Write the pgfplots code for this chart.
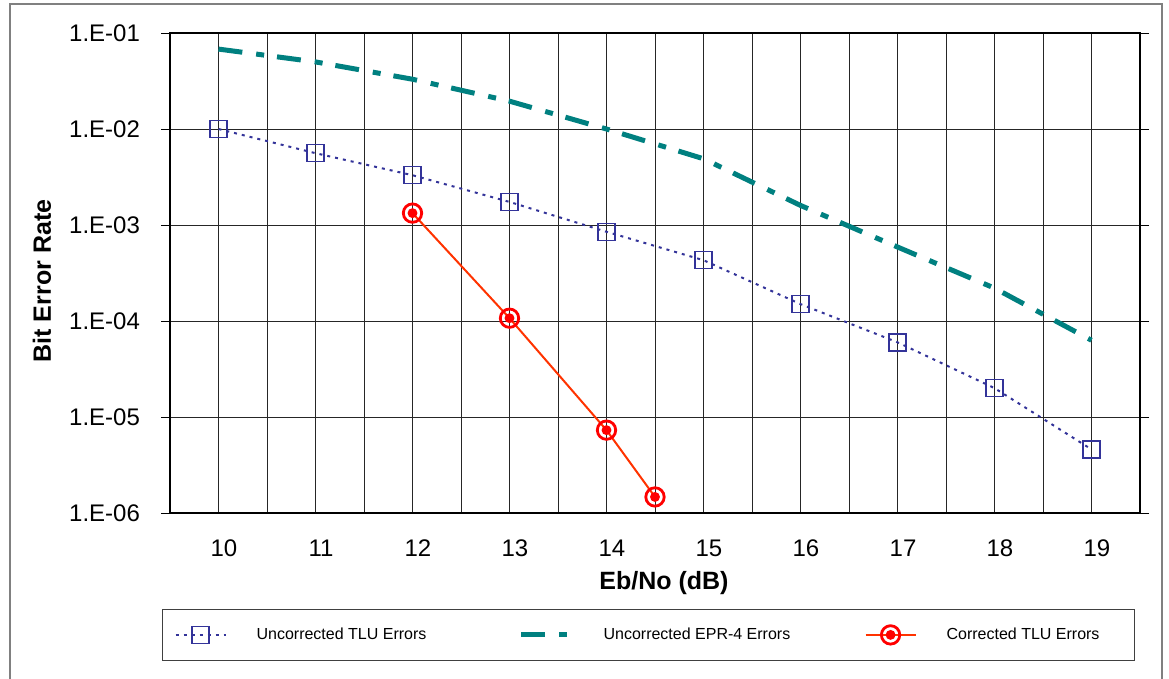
\documentclass[border=0pt]{standalone}
\usepackage{fontspec}
\setmainfont{Liberation Sans}
\usepackage{pgfplots}
\pgfplotsset{compat=1.18}
\definecolor{tlublue}{RGB}{51,51,153}
\definecolor{eprteal}{RGB}{0,128,128}
\definecolor{corrline}{RGB}{255,51,0}
\pgfdeclareplotmark{target}{%
  \pgfpathcircle{\pgfpointorigin}{\pgfplotmarksize}\pgfusepathqstroke
  \pgfpathcircle{\pgfpointorigin}{0.54\pgfplotmarksize}\pgfusepathqfill}
\begin{document}
\begin{tikzpicture}
\useasboundingbox (0,0) rectangle (584.5pt,-339.5pt);
\draw[gray,line width=0.8pt] (5pt,-345pt) -- (5pt,-2pt) -- (581pt,-2pt) -- (581pt,-345pt);
\begin{axis}[
  at={(85pt,-256.5pt)}, anchor=south west,
  scale only axis, width=485pt, height=240pt,
  xmin=9.5, xmax=19.5, ymin=1e-6, ymax=1e-1, ymode=log,
  xtick={10,...,19}, minor xtick={9.5,10.5,...,19.5},
  ytick={1e-6,1e-5,1e-4,1e-3,1e-2,1e-1},
  yticklabels={1.E-06,1.E-05,1.E-04,1.E-03,1.E-02,1.E-01},
  yminorticks=false,
  xmajorgrids, xminorgrids, ymajorgrids,
  grid style={black!85, line width=0.5pt},
  minor grid style={black!85, line width=0.5pt},
  axis line style={line width=1pt},
  xtick style={draw=none}, minor x tick style={draw=none},
  ytick style={black, line width=0.5pt},
  tick align=outside, major tick length=4.5pt,
  /pgf/number format/assume math mode=true,
  ticklabel style={font=\fontsize{12}{14}\selectfont},
  xticklabel style={yshift=-5.5pt, xshift=2.75pt},
  yticklabel style={xshift=-7pt},
  legend image code/.code={\draw[mark repeat=2,mark phase=2,#1] plot coordinates {(0pt,0pt) (12.5pt,0pt) (25pt,0pt)};},
  legend columns=3,
  legend cell align=left,
  legend style={at={(axis description cs:-0.00825,-0.2)}, anchor=north west,
    draw=black!75, line width=0.6pt, inner xsep=6pt, inner ysep=7pt,
    font=\fontsize{8}{9.6}\selectfont,
    /tikz/every odd column/.append style={column sep=13pt},
    /tikz/every even column/.append style={column sep=0pt}},
]
\addplot[tlublue, line width=1pt, dash pattern=on 1.5pt off 2.5pt,
  mark=square, mark size=4.25pt, mark options={solid, line width=0.75pt, fill=none}]
  coordinates {(10,1.0e-2) (11,5.6e-3) (12,3.3e-3) (13,1.74e-3) (14,8.5e-4)
   (15,4.3e-4) (16,1.5e-4) (17,6.0e-5) (18,2.0e-5) (19,4.6e-6)};
\addlegendentry{\makebox[129pt][l]{Uncorrected TLU Errors}}
\addplot[eprteal, line width=2.5pt, dash pattern=on 12pt off 7pt on 4pt off 6.5pt, no markers]
  coordinates {(10,6.8e-2) (11,5.0e-2) (12,3.3e-2) (13,1.95e-2) (14,1.0e-2)
   (15,4.9e-3) (16,1.6e-3) (17,5.9e-4) (18,2.2e-4) (19,6.3e-5)};
\addlegendentry{\makebox[128.5pt][l]{Uncorrected EPR-4 Errors}}
\addplot[corrline, line width=1pt, mark=target, mark size=4.6pt,
  mark options={solid, draw=red, fill=red, line width=1.4pt}]
  coordinates {(12,1.33e-3) (13,1.07e-4) (14,7.3e-6) (14.5,1.47e-6)};
\addlegendentry{\makebox[86pt][l]{Corrected TLU Errors}}
\end{axis}
\node[font=\bfseries\fontsize{12.5}{15}\selectfont] at (332pt,-291.5pt) {Eb/No (dB)};
\node[font=\bfseries\fontsize{12.5}{15}\selectfont, rotate=90] at (21pt,-140.5pt) {Bit Error Rate};
\end{tikzpicture}
\end{document}
